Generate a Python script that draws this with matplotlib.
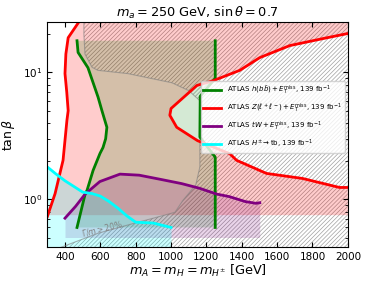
import matplotlib.pyplot as plt
import numpy as np

# ATLAS Z(ll)+MET contour (red)
red_left_x = [300, 344, 389, 411, 418, 410, 400, 405, 418, 474, 485]
red_left_y = [0.73, 1.11, 2.03, 4.2, 5.0, 7.0, 9.8, 14, 18.8, 24.5, 26]
red_right_x = [2000, 1859, 1672, 1502, 1389, 1237, 1146, 1050, 1000, 993, 1032, 1150, 1332,
               1371, 1540, 1744, 1953, 2000]
red_right_y = [20.3, 18.5, 16.3, 13.1, 10.4, 8.6, 7.9, 6.0, 5.2, 4.6, 3.7, 2.9, 2.29,
               2.03, 1.60, 1.46, 1.24, 1.24]
red_bottom = 0.75

# ATLAS h(bb)+MET contour (green)
green_left_x = [468, 474, 530, 587, 609, 637, 630, 615, 598, 559, 525, 514, 468]
green_left_y = [17.8, 14.4, 10.9, 6.4, 5.0, 3.7, 3.0, 2.56, 2.3, 1.69, 1.18, 1.1, 0.60]
green_right_x = [1250, 1250, 1165, 1163, 1250, 1250]
green_right_y = [17.8, 9.0, 6.5, 3.1, 2.15, 0.60]

# ATLAS tW+MET (purple)
purple_x = [400, 460, 514, 597, 711, 820, 937, 1060, 1163, 1258, 1330, 1420, 1480, 1502]
purple_y = [0.71, 0.88, 1.1, 1.38, 1.58, 1.55, 1.44, 1.33, 1.22, 1.1, 1.05, 0.96, 0.93, 0.94]
purple_bottom = 0.5

# ATLAS H+ -> tb (cyan)
cyan_x = [300, 350, 400, 500, 553, 600, 650, 700, 750, 800, 900, 1000]
cyan_y = [1.8, 1.58, 1.4, 1.14, 1.11, 1.06, 0.96, 0.85, 0.74, 0.66, 0.65, 0.6]

# Gamma/m > 20% boundary (gray)
gray_x = [507, 507, 513, 553, 586, 756, 1005, 1100, 1163, 1163, 1140, 1067, 1022, 900, 796, 587,
          361, 300]
gray_y = [26, 20, 14, 11, 10.4, 9.8, 8.3, 7.2, 6.0, 1.8, 1.3, 0.98, 0.79, 0.71, 0.65, 0.54,
          0.41, 0.37]

plt.rcParams['hatch.linewidth'] = 0.5

fig = plt.figure(figsize=(3.74, 2.86), dpi=100)
ax = fig.add_axes([0.1265, 0.136, 0.8035, 0.787])
ax.set_yscale('log')

# gray hatched region
gx = gray_x + [2000, 2000]
gy = gray_y + [0.37, 26]
ax.fill(gx, gy, facecolor='none', edgecolor='#a0a0a0', hatch='////////', linewidth=0)
ax.plot(gray_x, gray_y, color='gray', lw=0.8, alpha=0.6)

# red region
rx = red_left_x + [2000] + red_right_x + [2000, 300]
ry = red_left_y + [26] + red_right_y + [red_bottom, red_bottom]
ax.fill(rx, ry, color='red', alpha=0.2, linewidth=0)

# green region
gnx = green_left_x + green_right_x[::-1]
gny = green_left_y + green_right_y[::-1]
ax.fill(gnx, gny, color='green', alpha=0.17, linewidth=0)

# purple region
ax.fill_between(purple_x, purple_bottom, purple_y, color='purple', alpha=0.17, linewidth=0)

# cyan region
ax.fill_between(cyan_x, 0.3, cyan_y, color='cyan', alpha=0.2, linewidth=0)

ax.plot(green_left_x, green_left_y, color='green', lw=2)
l1, = ax.plot(green_right_x, green_right_y, color='green', lw=2)
ax.plot(red_left_x, red_left_y, color='red', lw=2)
l2, = ax.plot(red_right_x, red_right_y, color='red', lw=2)
l3, = ax.plot(purple_x, purple_y, color='purple', lw=2)
l4, = ax.plot(cyan_x, cyan_y, color='cyan', lw=2)

ax.text(610, 0.59, r'$\Gamma/m > 20\%$', rotation=14, fontsize=5.5, color='gray',
        ha='center', va='center')

ax.legend([l1, l2, l3, l4],
          [r'ATLAS $h(b\bar{b})+E_T^{\rm miss}$, 139 fb$^{-1}$',
           r'ATLAS $Z(\ell^+\ell^-)+E_T^{\rm miss}$, 139 fb$^{-1}$',
           r'ATLAS $tW+E_T^{\rm miss}$, 139 fb$^{-1}$',
           r'ATLAS $H^{\pm}\to$tb, 139 fb$^{-1}$'],
          loc='upper left', bbox_to_anchor=(0.51, 0.74), fontsize=5, framealpha=0.8,
          handlelength=2.6, borderaxespad=0, labelspacing=0.7)

ax.set_xlim(300, 2000)
ax.set_ylim(0.42, 25)
ax.set_xticks(np.arange(400, 2001, 200))
ax.tick_params(which='both', direction='in', top=True, right=True, labelsize=7.5)
ax.set_title(r'$m_a = 250$ GeV, $\sin\theta = 0.7$', fontsize=9.3, pad=4)
ax.set_xlabel(r'$m_A = m_H = m_{H^{\pm}}$ [GeV]', fontsize=9.3, labelpad=1)
ax.set_ylabel(r'$\tan\beta$', fontsize=9)

plt.savefig('out.png', dpi=100)
